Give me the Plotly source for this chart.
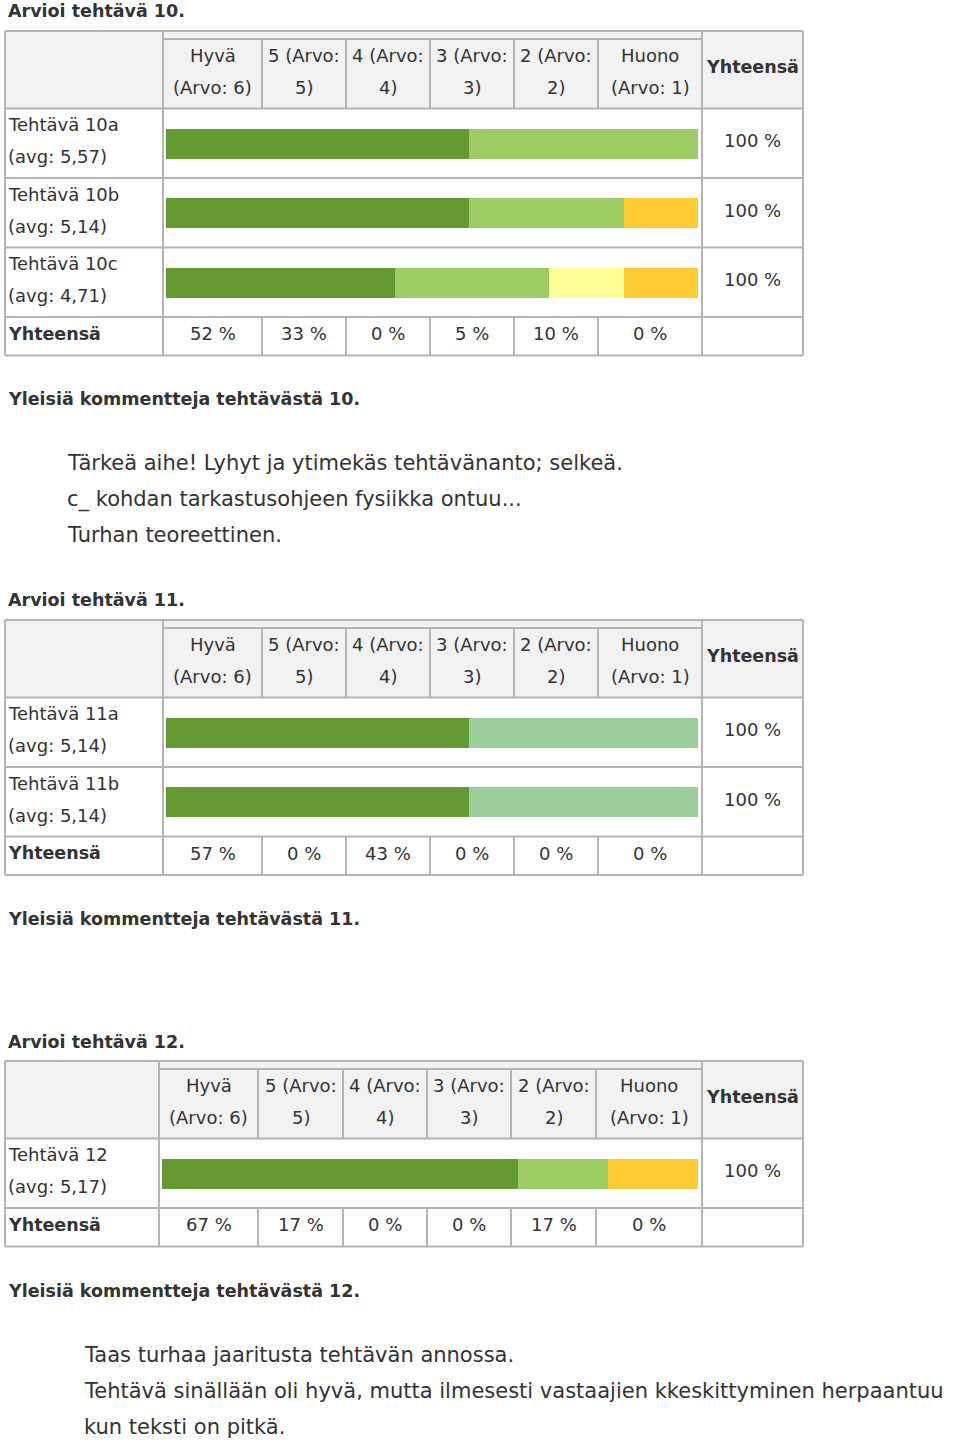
import plotly.graph_objects as go

W, H = 960, 1442

# ---- data ----
scale_head = [("Hyvä", "(Arvo: 6)"), ("5 (Arvo:", "5)"), ("4 (Arvo:", "4)"),
              ("3 (Arvo:", "3)"), ("2 (Arvo:", "2)"), ("Huono", "(Arvo: 1)")]
scale_colors = ["#639a31", "#9ccc63", "#9ccf9c", "#ffff99", "#ffcc33", "#f7941d"]

t10_rows = ["Tehtävä 10a", "Tehtävä 10b", "Tehtävä 10c"]
t10_avg = ["(avg: 5,57)", "(avg: 5,14)", "(avg: 4,71)"]
t10_share = [[57, 43, 0, 0, 0, 0],
             [57, 29, 0, 0, 14, 0],
             [43, 29, 0, 14, 14, 0]]
t10_rowsum = [100, 100, 100]
t10_total = [52, 33, 0, 5, 10, 0]
t10_comments = ["Tärkeä aihe! Lyhyt ja ytimekäs tehtävänanto; selkeä.",
                "c_ kohdan tarkastusohjeen fysiikka ontuu...",
                "Turhan teoreettinen."]

t11_rows = ["Tehtävä 11a", "Tehtävä 11b"]
t11_avg = ["(avg: 5,14)", "(avg: 5,14)"]
t11_share = [[57, 0, 43, 0, 0, 0],
             [57, 0, 43, 0, 0, 0]]
t11_rowsum = [100, 100]
t11_total = [57, 0, 43, 0, 0, 0]
t11_comments = []

t12_rows = ["Tehtävä 12"]
t12_avg = ["(avg: 5,17)"]
t12_share = [[67, 17, 0, 0, 17, 0]]
t12_rowsum = [100]
t12_total = [67, 17, 0, 0, 17, 0]
t12_comments = ["Taas turhaa jaaritusta tehtävän annossa.",
                "Tehtävä sinällään oli hyvä, mutta ilmesesti vastaajien kkeskittyminen herpaantuu",
                "kun teksti on pitkä."]

# ---- helpers ----
FONT = "DejaVu Sans"
TXT = "#333333"
LINE = "#b4b4b4"
HEAD_BG = "#f2f2f2"


def px(x):
    return x / W


def py(y):
    return 1 - y / H


fig = go.Figure()
shapes = []
notes = []


def text(x, y, s, size=18, bold=False, anchor="center"):
    if bold:
        s = "<b>" + s + "</b>"
    notes.append(dict(x=px(x), y=py(y), xref="paper", yref="paper", text=s,
                      showarrow=False, xanchor=anchor, yanchor="middle",
                      font=dict(family=FONT, size=size, color=TXT)))


def rect(x0, y0, x1, y1, fill):
    shapes.append(dict(type="rect", xref="paper", yref="paper", layer="below",
                       x0=px(x0), x1=px(x1), y0=py(y0), y1=py(y1),
                       fillcolor=fill, line_width=0))


def line(x0, y0, x1, y1):
    shapes.append(dict(type="line", xref="paper", yref="paper", layer="below",
                       x0=px(x0), x1=px(x1), y0=py(y0), y1=py(y1),
                       line=dict(color=LINE, width=2)))


def add_table(idx, top, edges, rows, avgs, shares, rowsum, totals):
    inner = top + 8
    hdr_b = top + 77.5
    row_h = 69.5
    n = len(rows)
    rows_b = hdr_b + n * row_h
    bot = rows_b + 38.5

    rect(edges[0], top, edges[1], hdr_b, HEAD_BG)
    rect(edges[1], top, edges[7], hdr_b, HEAD_BG)
    rect(edges[7], top, edges[8], hdr_b, HEAD_BG)

    line(edges[0], top, edges[8], top)
    line(edges[1], inner, edges[7], inner)
    line(edges[0], hdr_b, edges[8], hdr_b)
    for i in range(1, n + 1):
        line(edges[0], hdr_b + i * row_h, edges[8], hdr_b + i * row_h)
    line(edges[0], bot, edges[8], bot)
    for e in [edges[0], edges[1], edges[7], edges[8]]:
        line(e, top, e, bot)
    for e in edges[2:7]:
        line(e, inner, e, hdr_b)
        line(e, rows_b, e, bot)

    # header
    hc = (inner + hdr_b) / 2 - 2.5
    for k, (l1, l2) in enumerate(scale_head):
        cx = (edges[k + 1] + edges[k + 2]) / 2
        text(cx, hc - 16, l1)
        text(cx, hc + 16, l2)
    text((edges[7] + edges[8]) / 2, (top + hdr_b) / 2 - 2.5, "Yhteensä", size=17.5, bold=True)

    # rows
    for i in range(n):
        c = hdr_b + i * row_h + row_h / 2 - 2.5
        text(6, c - 16, rows[i], anchor="left")
        text(6, c + 16, avgs[i], anchor="left")
        text((edges[7] + edges[8]) / 2, c, f"{rowsum[i]} %")

    # totals row
    c = rows_b + 38.5 / 2 - 2.5
    text(6, c, "Yhteensä", size=17.5, bold=True, anchor="left")
    for k, v in enumerate(totals):
        text((edges[k + 1] + edges[k + 2]) / 2, c, f"{v} %")

    # stacked bars
    xa = "x" if idx == 1 else f"x{idx}"
    ya = "y" if idx == 1 else f"y{idx}"
    for k, col in enumerate(scale_colors):
        fig.add_trace(go.Bar(
            y=list(range(n)), x=[s[k] for s in shares], orientation="h",
            marker=dict(color=col, line_width=0), width=30 / row_h,
            xaxis=xa, yaxis=ya, hoverinfo="skip", showlegend=False))
    key = "" if idx == 1 else str(idx)
    fig.update_layout(**{
        "xaxis" + key: dict(domain=[px(edges[1] + 3), px(698)], range=[0, 100],
                            visible=False, fixedrange=True, anchor=ya),
        "yaxis" + key: dict(domain=[py(rows_b), py(hdr_b)], range=[n - 0.5, -0.5],
                            visible=False, fixedrange=True, anchor=xa),
    })


edges_a = [5, 163, 262, 346, 430, 514, 598, 702, 803]
edges_b = [5, 159, 258, 343, 427, 511, 596, 702, 803]

text(6, 11, "Arvioi tehtävä 10.", size=17.5, bold=True, anchor="left")
add_table(1, 31, edges_a, t10_rows, t10_avg, t10_share, t10_rowsum, t10_total)
text(6, 399, "Yleisiä kommentteja tehtävästä 10.", size=17.5, bold=True, anchor="left")
for i, s in enumerate(t10_comments):
    text(65, 463 + 36 * i, s, size=21, anchor="left")

text(6, 600, "Arvioi tehtävä 11.", size=17.5, bold=True, anchor="left")
add_table(2, 620, edges_a, t11_rows, t11_avg, t11_share, t11_rowsum, t11_total)
text(6, 919, "Yleisiä kommentteja tehtävästä 11.", size=17.5, bold=True, anchor="left")
for i, s in enumerate(t11_comments):
    text(65, 983 + 36 * i, s, size=21, anchor="left")

text(6, 1042, "Arvioi tehtävä 12.", size=17.5, bold=True, anchor="left")
add_table(3, 1061, edges_b, t12_rows, t12_avg, t12_share, t12_rowsum, t12_total)
text(6, 1291, "Yleisiä kommentteja tehtävästä 12.", size=17.5, bold=True, anchor="left")
for i, s in enumerate(t12_comments):
    text(82, 1355 + 36 * i, s, size=21, anchor="left")

fig.update_layout(
    width=W, height=H, margin=dict(l=0, r=0, t=0, b=0),
    barmode="stack", barnorm="percent", bargap=0,
    paper_bgcolor="white", plot_bgcolor="rgba(0,0,0,0)",
    shapes=shapes, annotations=notes, showlegend=False,
)

# drop the default 8px page margin so the figure sits at the window corner
fig.write_html("out.html", config={"displayModeBar": False},
               post_script="document.body.style.margin = '0px';")
